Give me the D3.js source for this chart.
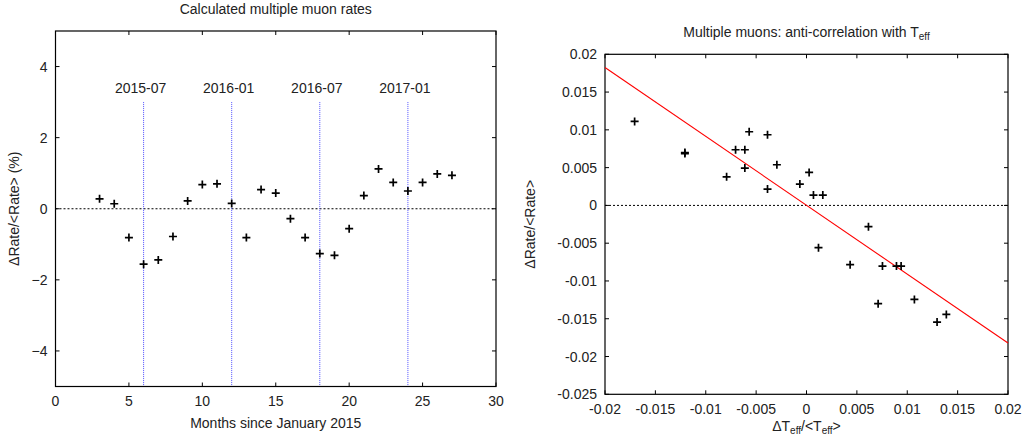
<!DOCTYPE html>
<html><head><meta charset="utf-8">
<script src="https://cdn.jsdelivr.net/npm/d3@7"></script>
<style>body{margin:0;background:#fff}svg{display:block}text{font-family:"Liberation Sans",Arial,sans-serif;fill:#222}</style>
</head><body>
<svg id="c" width="1026" height="443"></svg>
<script>
// Left panel data
const months = [3,4,5,6,7,8,9,10,11,12,13,14,15,16,17,18,19,20,21,22,23,24,25,26,27];
const rateDev = [0.28,0.14,-0.81,-1.56,-1.44,-0.78,0.22,0.68,0.70,0.15,-0.81,0.54,0.44,-0.28,-0.81,-1.26,-1.31,-0.56,0.37,1.12,0.74,0.50,0.74,0.98,0.94];
const markerMonths = [6,12,18,24];
const markerLabels = ["2015-07","2016-01","2016-07","2017-01"];
const leftXTicks = [0,5,10,15,20,25,30];
const leftYTicks = [-4,-2,0,2,4];

// Right panel data
const dTeff = [-0.01706,-0.01207,-0.01207,-0.00793,-0.00704,-0.00612,-0.00612,-0.00569,-0.00387,-0.00387,-0.00294,-0.00066,0.00026,0.00069,0.00162,0.00119,0.00433,0.00615,0.00711,0.00754,0.00893,0.00939,0.01071,0.01296,0.01388];
const dRate = [0.01112,0.00700,0.00686,0.00379,0.00737,0.00737,0.00494,0.00975,0.00935,0.00216,0.00538,0.00282,0.00437,0.00137,0.00137,-0.00560,-0.00785,-0.00282,-0.01301,-0.00803,-0.00803,-0.00803,-0.01244,-0.01544,-0.01443];
const fitSlope = -0.912;
const fitIntercept = 0.00002;
const rightXTicks = [-0.02,-0.015,-0.01,-0.005,0,0.005,0.01,0.015,0.02];
const rightYTicks = [-0.025,-0.02,-0.015,-0.01,-0.005,0,0.005,0.01,0.015,0.02];

const svg = d3.select("#c");
const FS = 14;

function frame(g, x, y, xt, yt, fmtX, fmtY){
  const [x0,x1] = x.range(), [y0,y1] = y.range();
  const tl = 4;
  xt.forEach(v=>{
    g.append("line").attr("x1",x(v)).attr("x2",x(v)).attr("y1",y0).attr("y2",y0-tl).attr("stroke","#000");
    g.append("line").attr("x1",x(v)).attr("x2",x(v)).attr("y1",y1).attr("y2",y1+tl).attr("stroke","#000");
    g.append("text").attr("x",x(v)).attr("y",y0+19.5).attr("text-anchor","middle").attr("font-size",FS).text(fmtX(v));
  });
  yt.forEach(v=>{
    g.append("line").attr("x1",x0).attr("x2",x0+tl).attr("y1",y(v)).attr("y2",y(v)).attr("stroke","#000");
    g.append("line").attr("x1",x1).attr("x2",x1-tl).attr("y1",y(v)).attr("y2",y(v)).attr("stroke","#000");
    g.append("text").attr("x",x0-8).attr("y",y(v)+5).attr("text-anchor","end").attr("font-size",FS).text(fmtY(v));
  });
  g.append("rect").attr("x",x0).attr("y",y1).attr("width",x1-x0).attr("height",y0-y1).attr("fill","none").attr("stroke","#000").attr("stroke-width",1.2);
}

function plus(g, cx, cy){
  g.append("path").attr("d",`M${cx-4},${cy}H${cx+4}M${cx},${cy-4}V${cy+4}`).attr("stroke","#000").attr("stroke-width",1.7);
}

// ---- Left
{
  const g = svg.append("g");
  const x = d3.scaleLinear().domain([0,30]).range([55.5,496]);
  const y = d3.scaleLinear().domain([-5,5]).range([386.5,31]);
  g.append("line").attr("x1",x(0)).attr("x2",x(30)).attr("y1",y(0)).attr("y2",y(0)).attr("stroke","#000").attr("stroke-dasharray","2,2");
  markerMonths.forEach((m,i)=>{
    g.append("line").attr("x1",x(m)).attr("x2",x(m)).attr("y1",y(3)).attr("y2",y(-5)).attr("stroke","#5050ff").attr("stroke-width",1).attr("stroke-dasharray","1,1");
    g.append("text").attr("x",x(m)-3).attr("y",y(3)-9).attr("text-anchor","middle").attr("font-size",FS).text(markerLabels[i]);
  });
  frame(g,x,y,leftXTicks,leftYTicks,d3.format("d"),d3.format("d"));
  months.forEach((m,i)=>plus(g,x(m),y(rateDev[i])));
  g.append("text").attr("x",(55.5+496)/2).attr("y",14).attr("text-anchor","middle").attr("font-size",FS).text("Calculated multiple muon rates");
  g.append("text").attr("x",(55.5+496)/2).attr("y",428).attr("text-anchor","middle").attr("font-size",FS).text("Months since January 2015");
  g.append("text").attr("transform",`translate(19,${(31+386.5)/2}) rotate(-90)`).attr("text-anchor","middle").attr("font-size",FS).text("\u0394Rate/<Rate> (%)");
}

// ---- Right
{
  const g = svg.append("g");
  const x = d3.scaleLinear().domain([-0.02,0.02]).range([605,1008]);
  const y = d3.scaleLinear().domain([-0.025,0.02]).range([394.3,54.3]);
  g.append("line").attr("x1",x(-0.02)).attr("x2",x(0.02)).attr("y1",y(0)).attr("y2",y(0)).attr("stroke","#000").attr("stroke-dasharray","2,2");
  const fmt = v => v===0 ? "0" : String(+v.toFixed(3));
  frame(g,x,y,rightXTicks,rightYTicks,fmt,fmt);
  g.append("line").attr("x1",x(-0.02)).attr("y1",y(fitIntercept+fitSlope*-0.02)).attr("x2",x(0.02)).attr("y2",y(fitIntercept+fitSlope*0.02)).attr("stroke","#ff0000").attr("stroke-width",1.1);
  dTeff.forEach((v,i)=>plus(g,x(v),y(dRate[i])));
  const t = g.append("text").attr("x",(605+1008)/2).attr("y",37).attr("text-anchor","middle").attr("font-size",FS);
  t.append("tspan").text("Multiple muons: anti-correlation with T");
  t.append("tspan").attr("font-size",10).attr("dy",3).text("eff");
  const xl = g.append("text").attr("x",(605+1008)/2).attr("y",431).attr("text-anchor","middle").attr("font-size",FS);
  xl.append("tspan").text("\u0394T");
  xl.append("tspan").attr("font-size",10).attr("dy",3).text("eff");
  xl.append("tspan").attr("dy",-3).text("/<T");
  xl.append("tspan").attr("font-size",10).attr("dy",3).text("eff");
  xl.append("tspan").attr("dy",-3).text(">");
  g.append("text").attr("transform",`translate(535,${(54.3+394.3)/2}) rotate(-90)`).attr("text-anchor","middle").attr("font-size",FS).text("\u0394Rate/<Rate>");
}
</script>
</body></html>
